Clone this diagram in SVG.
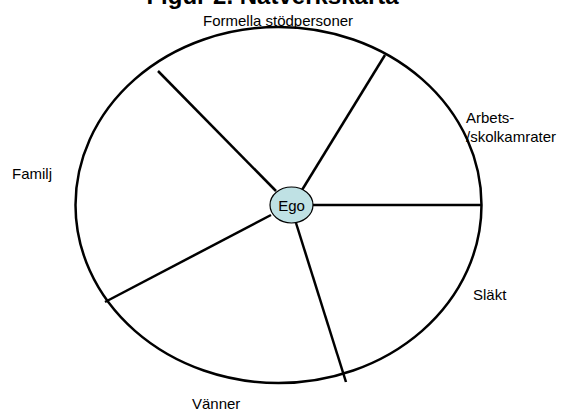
<svg xmlns="http://www.w3.org/2000/svg" width="562" height="412" viewBox="0 0 562 412">
<style>
text{font-family:"Liberation Sans",Arial,sans-serif;font-size:15px;fill:#000}
.title{font-weight:bold;font-size:24px}
.ln{stroke:#000;stroke-width:2.5;fill:none}
</style>
<rect width="562" height="412" fill="#fff"/>
<text class="title" x="272.5" y="4" text-anchor="middle">Figur 2. Nätverkskarta</text>
<g id="map">
<ellipse class="ln" cx="278.5" cy="205" rx="203" ry="178"/>
</g>
<g id="connectors">
<line class="ln" x1="158" y1="71" x2="276" y2="191"/>
<line class="ln" x1="385" y1="55" x2="302" y2="190"/>
<line class="ln" x1="313" y1="205" x2="481" y2="205"/>
<line class="ln" x1="296" y1="223" x2="346" y2="382"/>
<line class="ln" x1="105" y1="302" x2="271" y2="215"/>
</g>
<g id="ego">
<ellipse cx="291.5" cy="205" rx="21.5" ry="18" fill="#bfe1e4" stroke="#000" stroke-width="1.2"/>
<text x="291.5" y="211" text-anchor="middle">Ego</text>
</g>
<g id="formella"><text x="203" y="26">Formella stödpersoner</text></g>
<g id="arbets"><text x="466" y="123">Arbets-</text><text x="466" y="142">/skolkamrater</text></g>
<g id="familj"><text x="12" y="179">Familj</text></g>
<g id="slakt"><text x="473" y="300">Släkt</text></g>
<g id="vanner"><text x="192" y="409">Vänner</text></g>
</svg>
